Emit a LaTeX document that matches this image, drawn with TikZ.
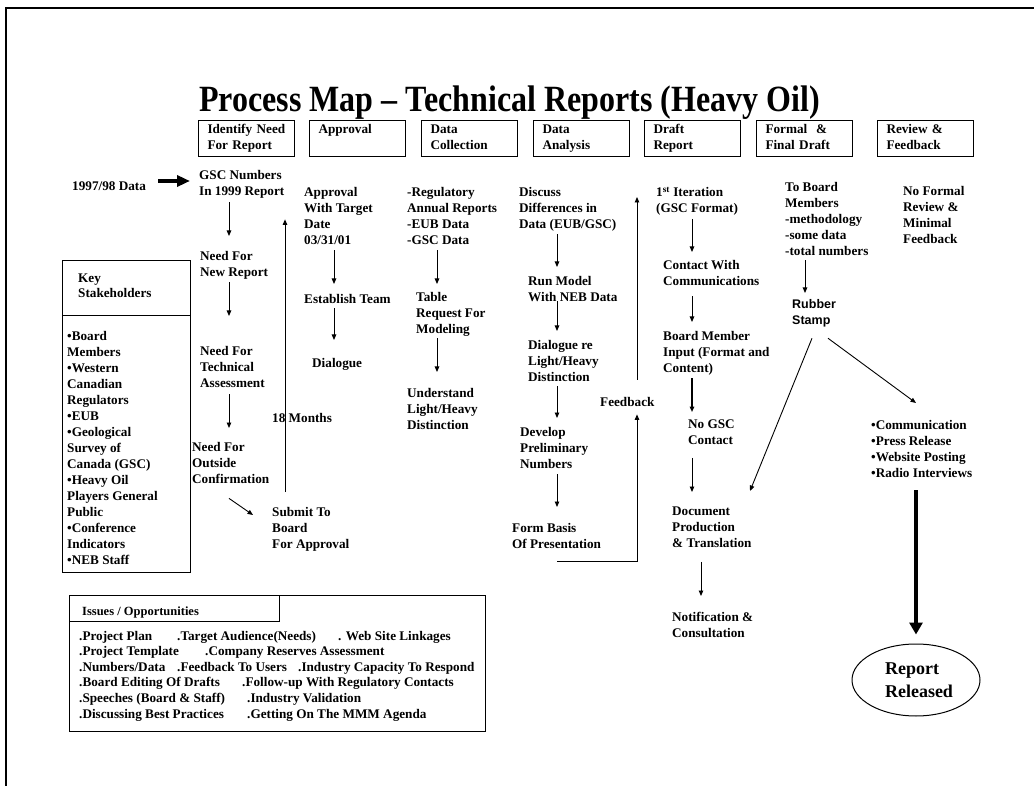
\documentclass[tikz,border=0pt]{standalone}
\usepackage{fontspec}
\setmainfont{Liberation Serif}
\newfontfamily\sansf{Liberation Sans}
\usetikzlibrary{arrows.meta,calc,shapes.geometric}
\newcommand\bodyf{\fontsize{13.2}{16}\selectfont\bfseries}
\newcommand\rubf{\sansf\fontsize{12.5}{16}\selectfont\bfseries}
\begin{document}
\begin{tikzpicture}[x=1pt,y=-1pt,
  txt/.style={anchor=north west,inner sep=0pt,align=left,font=\bodyf,execute at begin node=\strut,execute at end node=\strut},
  seg/.style={anchor=base west,inner sep=0pt,font=\bodyf},
  hbox/.style={draw,line width=1pt,anchor=north west,minimum width=96pt,minimum height=36pt,text width=78pt,inner xsep=9pt,inner ysep=0pt,align=left,font=\bodyf,execute at begin node=\strut,execute at end node=\strut},
  frame/.style={draw,line width=1pt,anchor=north west,inner sep=0pt},
  arr/.style={-{Triangle[length=5.5pt,width=4.5pt]},line width=0.9pt},
  thickarr/.style={-{Triangle[length=13pt,width=11pt]},line width=3.5pt},
  bigarr/.style={-{Triangle[length=12pt,width=13pt]},line width=3.8pt}
]
\useasboundingbox (0,0) rectangle (1034,786);
\draw[line width=2.2pt] (6,786) -- (6,8) -- (1034,8);

% title
\node[font=\fontsize{37}{44}\selectfont\bfseries,inner sep=0pt,anchor=base] (title) at (509.5,112) {\scalebox{0.865}[1]{Process Map – Technical Reports (Heavy Oil)}};

% header boxes
\node[hbox] (h1) at (198,120) {Identify~Need\\For~Report};
\node[hbox] (h2) at (309,120) {Approval\\\mbox{}};
\node[hbox] (h3) at (421,120) {Data\\Collection};
\node[hbox] (h4) at (533,120) {Data\\Analysis};
\node[hbox] (h5) at (644,120) {Draft\\Report};
\node[hbox] (h6) at (756,120) {Formal~~\&\\Final~Draft};
\node[hbox] (h7) at (877,120) {Review~\&\\Feedback};

% column 1
\node[txt] (data) at (72,178.8) {1997/98 Data};
\node[txt] (gsc) at (199,169.8) {GSC Numbers\\In 1999 Report};
\node[txt] (neednew) at (200,250.8) {Need For\\New Report};
\node[txt] (needtech) at (200,345.8) {Need For\\Technical\\Assessment};
\node[txt] (needout) at (192,441.8) {Need For\\Outside\\Confirmation};
\node[txt] (submit) at (272,506.8) {Submit To\\Board\\For Approval};
\node[txt] (m18) at (272,410.8) {18 Months};

% column 2
\node[txt] (approval) at (304,186.8) {Approval\\With Target\\Date\\03/31/01};
\node[txt] (estab) at (304,291.8) {Establish Team};
\node[txt] (dial) at (312,355.8) {Dialogue};

% column 3
\node[txt] (reg) at (407,186.8) {-Regulatory\\Annual Reports\\-EUB Data\\-GSC Data};
\node[txt] (table) at (416,291.8) {Table\\Request For\\Modeling};
\node[txt] (und) at (407,387.8) {Understand\\Light/Heavy\\Distinction};

% column 4
\node[txt] (disc) at (519,186.8) {Discuss\\Differences in\\Data (EUB/GSC)};
\node[txt] (run) at (528,275.8) {Run Model\\With NEB Data};
\node[txt] (dlg) at (528,339.8) {Dialogue re\\Light/Heavy\\Distinction};
\node[txt] (dev) at (520,426.8) {Develop\\Preliminary\\Numbers};
\node[txt] (form) at (512,522.8) {Form Basis\\Of Presentation};
\node[txt] (fb) at (600,394.8) {Feedback};
\coordinate (fbtop) at (637,197);

% column 5
\node[txt] (iter) at (656,186.8) {1\textsuperscript{st} Iteration\\(GSC Format)};
\node[txt] (contact) at (663,259.8) {Contact With\\Communications};
\node[txt] (board) at (663,330.8) {Board Member\\Input (Format and\\Content)};
\node[txt] (nogsc) at (688,419.8) {No GSC\\Contact};
\node[txt] (doc) at (672,506.8) {Document\\Production\\\& Translation};
\node[txt] (notif) at (672,611.8) {Notification \&\\Consultation};

% column 6
\node[txt] (toboard) at (785,181.8) {To Board\\Members\\-methodology\\-some data\\-total numbers};
\node[txt,font=\rubf] (rubber) at (792,298.8) {Rubber\\Stamp};

% column 7
\node[txt] (noformal) at (903,185.8) {No Formal\\Review \&\\Minimal\\Feedback};
\node[txt] (comm) at (871,419.8) {•Communication\\•Press Release\\•Website Posting\\•Radio Interviews};
\node[ellipse,draw,line width=1pt,minimum width=128pt,minimum height=72pt,inner sep=0pt,align=left,font=\fontsize{18}{23}\selectfont\bfseries] (rel) at (916,680) {\hspace*{6pt}Report\\\hspace*{6pt}Released};

% key stakeholders
\node[frame,minimum width=128pt,minimum height=312pt] (ksbox) at (62,260) {};
\draw[line width=1pt] (ksbox.west |- 0,316) -- (ksbox.east |- 0,316);
\node[txt] (kshead) at (78,273.8) {Key\\[-1pt]Stakeholders};
\node[txt] (kslist) at (67,330.8) {•Board\\Members\\•Western\\Canadian\\Regulators\\•EUB\\•Geological\\Survey of\\Canada (GSC)\\•Heavy Oil\\Players General\\Public\\•Conference\\Indicators\\•NEB Staff};

% issues / opportunities
\node[frame,minimum width=416pt,minimum height=136pt] (issbox) at (69,595) {};
\node[frame,minimum width=210pt,minimum height=26pt] (isstab) at (69,595) {};
\node[seg,font=\fontsize{12.5}{15}\selectfont\bfseries] (isshead) at (82,615) {Issues / Opportunities};
\node[seg] (i1a) at (79,640) {.Project Plan};
\node[seg] (i1b) at (177,640) {.Target Audience(Needs)};
\node[seg] (i1c) at (338,640) {. Web Site Linkages};
\node[seg] (i2a) at (79,655.6) {.Project Template};
\node[seg] (i2b) at (205,655.6) {.Company Reserves Assessment};
\node[seg] (i3a) at (79,671.2) {.Numbers/Data};
\node[seg] (i3b) at (177,671.2) {.Feedback To Users};
\node[seg] (i3c) at (298,671.2) {.Industry Capacity To Respond};
\node[seg] (i4a) at (79,686.8) {.Board Editing Of Drafts};
\node[seg] (i4b) at (242,686.8) {.Follow-up With Regulatory Contacts};
\node[seg] (i5a) at (79,702.4) {.Speeches (Board \& Staff)};
\node[seg] (i5b) at (247,702.4) {.Industry Validation};
\node[seg] (i6a) at (79,718) {.Discussing Best Practices};
\node[seg] (i6b) at (247,718) {.Getting On The MMM Agenda};

% connectors column 1
\draw[thickarr,shorten <=12.3pt,shorten >=9pt] (data.east |- 0,181) -- (gsc.west |- 0,181);
\draw[arr,shorten <=2.2pt,shorten >=14.8pt] (gsc.south -| 229,0) -- (neednew.north -| 229,0);
\draw[arr,shorten <=1.2pt,shorten >=29.8pt] (neednew.south -| 229,0) -- (needtech.north -| 229,0);
\draw[arr,shorten <=2.2pt,shorten >=13.8pt] (needtech.south -| 229,0) -- (needout.north -| 229,0);
\draw[arr] ($(needout.south west)+(37,10.2)$) -- ($(submit.north west)+(-19,8.2)$);
\draw[arr,shorten <=14.8pt,shorten >=19.2pt] (submit.north -| 285,0) -- (gsc.south -| 285,0);

% column 2
\draw[arr,shorten <=1.2pt,shorten >=7.8pt] (approval.south -| 334,0) -- (estab.north -| 334,0);
\draw[arr,shorten <=0.2pt,shorten >=15.8pt] (estab.south -| 334,0) -- (dial.north -| 334,0);

% column 3
\draw[arr,shorten <=1.2pt,shorten >=7.8pt] (reg.south -| 437,0) -- (table.north -| 437,0);
\draw[arr,shorten <=0.2pt,shorten >=15.8pt] (table.south -| 437,0) -- (und.north -| 437,0);

% column 4
\draw[arr,shorten <=1.2pt,shorten >=8.8pt] (disc.south -| 557,0) -- (run.north -| 557,0);
\draw[arr,shorten <=-4.8pt,shorten >=8.8pt] (run.south -| 557,0) -- (dlg.north -| 557,0);
\draw[arr,shorten <=0.2pt,shorten >=8.8pt] (dlg.south -| 557,0) -- (dev.north -| 557,0);
\draw[arr,shorten <=1.2pt,shorten >=15.8pt] (dev.south -| 557,0) -- (form.north -| 557,0);
\draw[arr,shorten >=3.2pt] ($(form.south -| 557,0)+(0,8.2)$) -| (fb.south -| 637,0);
\draw[arr,shorten <=14.8pt] (fb.north -| 637,0) -- (fbtop);

% column 5
\draw[arr,shorten <=1.2pt,shorten >=7.8pt] (iter.south -| 692,0) -- (contact.north -| 692,0);
\draw[arr,shorten <=6.2pt,shorten >=8.8pt] (contact.south -| 692,0) -- (board.north -| 692,0);
\draw[arr,line width=1.6pt,shorten <=1.2pt,shorten >=7.8pt] (board.south -| 692,0) -- (nogsc.north -| 692,0);
\draw[arr,shorten <=8.2pt,shorten >=14.8pt] (nogsc.south -| 692,0) -- (doc.north -| 692,0);
\draw[arr,shorten <=9.2pt,shorten >=15.8pt] (doc.south -| 701,0) -- (notif.north -| 701,0);

% column 6 / 7
\draw[arr,shorten <=0.2pt,shorten >=5.8pt] (toboard.south -| 805,0) -- (rubber.north -| 805,0);
\draw[arr] ($(rubber.south west)+(20,9.2)$) -- ($(doc.north west)+(78,-15.8)$);
\draw[arr] ($(rubber.south west)+(36,9.2)$) -- ($(comm.north west)+(45,-16.8)$);
\draw[bigarr,shorten <=8.2pt,shorten >=9pt] (comm.south -| 916,0) -- (rel.north);
\end{tikzpicture}
\end{document}
